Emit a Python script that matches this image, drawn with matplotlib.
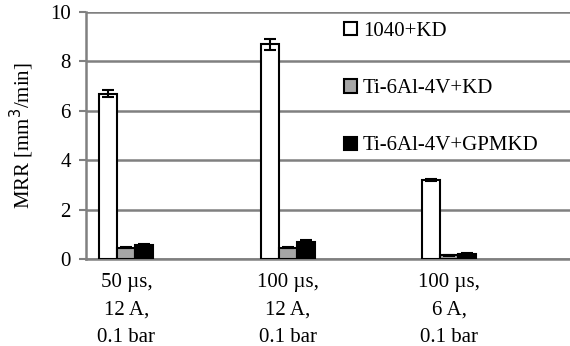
import matplotlib
matplotlib.use('Agg')
import matplotlib.pyplot as plt
import numpy as np

# data
conditions = ['50 \u00b5s,\n12 A,\n0.1 bar', '100 \u00b5s,\n12 A,\n0.1 bar', '100 \u00b5s,\n6 A,\n0.1 bar']
series = ['1040+KD', 'Ti-6Al-4V+KD', 'Ti-6Al-4V+GPMKD']
mrr_1040_kd = [6.7, 8.7, 3.2]
mrr_ti_kd = [0.45, 0.45, 0.15]
mrr_ti_gpmkd = [0.55, 0.68, 0.2]
err_1040_kd = [0.13, 0.22, 0.05]
err_ti_kd = [0.02, 0.02, 0.01]
err_ti_gpmkd = [0.04, 0.08, 0.03]

plt.rcParams['font.family'] = ['Liberation Serif', 'DejaVu Serif']
fs = 15

fig = plt.figure(figsize=(5.7, 3.46), dpi=100)
ax = fig.add_axes([0.151, 0.2514, 0.849, 0.7139])

x = np.arange(len(conditions))
w = 0.112
colors = ['white', '#a6a6a6', 'black']
values = [mrr_1040_kd, mrr_ti_kd, mrr_ti_gpmkd]
errors = [err_1040_kd, err_ti_kd, err_ti_gpmkd]
for i in range(3):
    ax.bar(x + (i - 1) * w, values[i], w, color=colors[i], edgecolor='black',
           linewidth=1.5, label=series[i], zorder=3,
           yerr=errors[i], error_kw=dict(ecolor='black', capsize=4, elinewidth=1.5, capthick=1.5))

ax.set_ylim(0, 10)
ax.set_xlim(-0.25, 2.75)
ax.set_yticks([0, 2, 4, 6, 8, 10])
ax.set_xticks(x)
ax.set_xticklabels(conditions, fontsize=fs, linespacing=1.62)
ax.tick_params(axis='y', labelsize=fs, length=5, width=1.5, color='#808080', pad=6)
ax.tick_params(axis='x', length=0, pad=10)
ax.yaxis.grid(True, color='#808080', linewidth=1.8, zorder=0)
ax.set_axisbelow(True)
for s in ['top', 'right']:
    ax.spines[s].set_visible(False)
for s in ['left', 'bottom']:
    ax.spines[s].set_color('#808080')
    ax.spines[s].set_linewidth(1.8)

ax.set_ylabel('MRR [mm$^3$/min]', fontsize=fs, labelpad=10)

ax.legend(loc='upper left', bbox_to_anchor=(0.571, 0.99), bbox_transform=fig.transFigure,
          frameon=False, fontsize=fs, handlelength=0.6, handleheight=0.6,
          handletextpad=0.3, labelspacing=1.83)

fig.savefig('out.png', dpi=100)
